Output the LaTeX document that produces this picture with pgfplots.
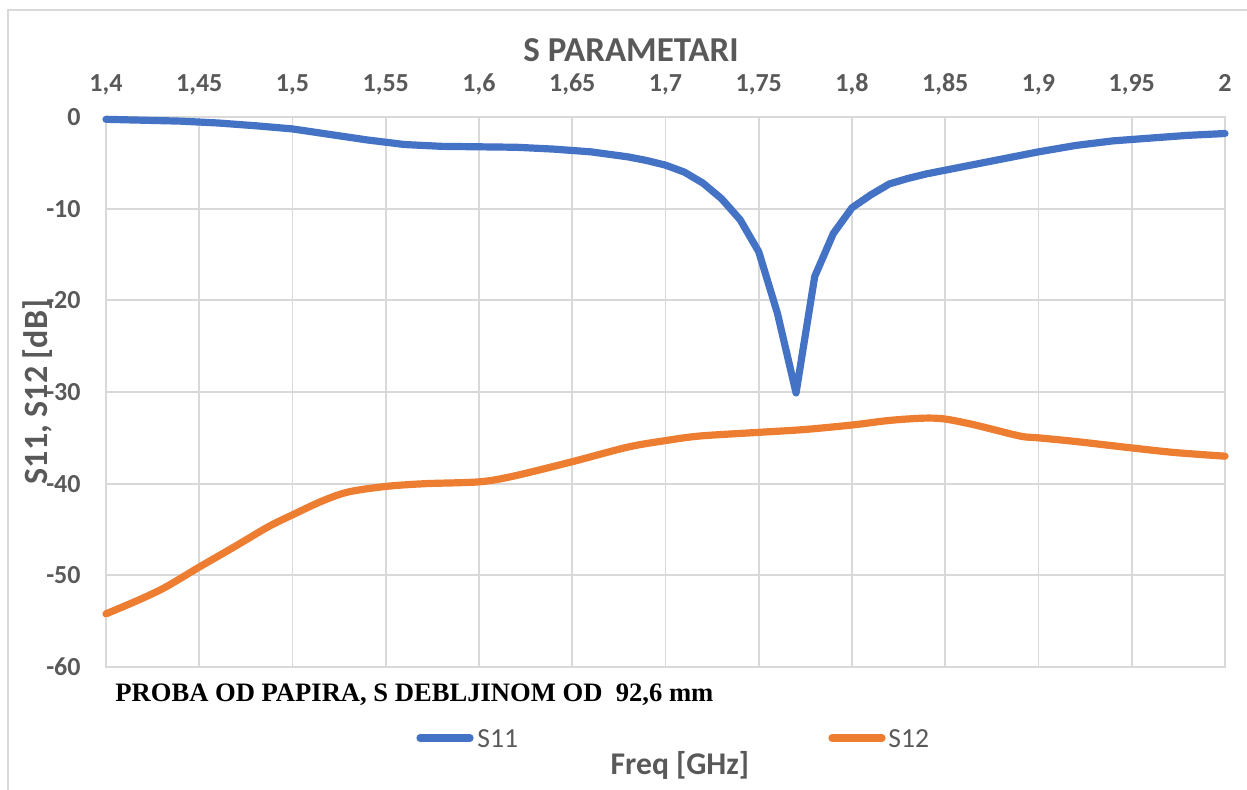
\documentclass[border=0pt]{standalone}
\usepackage{pgfplots}
\pgfplotsset{compat=1.18}
\usepackage{fontspec}
\setmainfont{Carlito}
\newfontfamily\timesfont{Liberation Serif}
\definecolor{txtgray}{HTML}{595959}
\definecolor{gridgray}{HTML}{D9D9D9}
\definecolor{sblue}{HTML}{4472C4}
\definecolor{sorange}{HTML}{ED7D31}
\begin{document}
\begin{tikzpicture}
\begin{scope}[x=0.5pt,y=-0.5pt]
\path[use as bounding box] (0,0) rectangle (1247,789);
\draw[gridgray,line width=0.8pt] (8,10) rectangle (1260,800);
\end{scope}
\begin{axis}[
  at={(53pt,-333.5pt)}, anchor=south west,
  width=559.5pt, height=275pt, scale only axis,
  xmin=1.4, xmax=2, ymin=-60, ymax=0,
  xtick={1.4,1.45,1.5,1.55,1.6,1.65,1.7,1.75,1.8,1.85,1.9,1.95,2},
  xticklabels={{1,4},{1,45},{1,5},{1,55},{1,6},{1,65},{1,7},{1,75},{1,8},{1,85},{1,9},{1,95},2},
  ytick={-60,-50,-40,-30,-20,-10,0},
  yticklabels={-60,-50,-40,-30,-20,-10,0},
  xticklabel pos=upper,
  major tick length=0pt,
  grid=major,
  major grid style={gridgray, line width=0.9pt},
  axis line style={gridgray, line width=0.9pt},
  tick label style={font=\fontsize{13}{15}\selectfont\bfseries, text=txtgray},
  xticklabel style={anchor=base, inner sep=0pt, yshift=13pt},
  yticklabel style={anchor=east, inner sep=0pt, xshift=-12.5pt},
  clip=false,
]
\addplot[sorange, line width=3.6pt, line cap=round, line join=round, smooth] coordinates {
(1.40,-54.2) (1.4174,-52.7) (1.4318,-51.3) (1.45,-49.1) (1.4687,-46.9) (1.487,-44.7) (1.50,-43.4) (1.5158,-41.9) (1.530,-40.9) (1.55,-40.3) (1.571,-40.0) (1.60,-39.8) (1.618,-39.2) (1.65,-37.6) (1.68,-36.0) (1.70,-35.3) (1.7184,-34.8) (1.75,-34.4) (1.774,-34.1) (1.80,-33.6) (1.820,-33.1) (1.8386,-32.85) (1.85,-32.95) (1.866,-33.6) (1.89,-34.8) (1.90,-35.0) (1.92,-35.4) (1.95,-36.1) (1.973,-36.6) (2.00,-37.0)
};
\addplot[sblue, line width=3.6pt, line cap=round, line join=round] coordinates {
(1.40,-0.25) (1.42,-0.35) (1.44,-0.45) (1.46,-0.65) (1.48,-0.95) (1.50,-1.3) (1.52,-1.9) (1.54,-2.5) (1.56,-3.0) (1.58,-3.2) (1.60,-3.25) (1.62,-3.3) (1.64,-3.5) (1.66,-3.8) (1.68,-4.35) (1.69,-4.75) (1.70,-5.25) (1.71,-6.0) (1.72,-7.2) (1.73,-8.9) (1.74,-11.2) (1.75,-14.7) (1.76,-21.4) (1.77,-30.1) (1.78,-17.4) (1.79,-12.7) (1.80,-9.9) (1.81,-8.5) (1.82,-7.3) (1.83,-6.7) (1.84,-6.2) (1.85,-5.8) (1.86,-5.4) (1.88,-4.6) (1.90,-3.8) (1.92,-3.1) (1.94,-2.6) (1.96,-2.3) (1.98,-2.0) (2.00,-1.8)
};
\end{axis}
\begin{scope}[x=0.5pt,y=-0.5pt]
\node[font=\fontsize{17.5}{19}\selectfont\bfseries, text=txtgray] at (631,50) {S PARAMETARI};
\node[font=\fontsize{17}{19}\selectfont\bfseries, text=txtgray, rotate=90] at (38,392) {S11, S12 [dB]};
\node[font=\fontsize{15.8}{17}\selectfont\bfseries, text=txtgray] at (680,765) {Freq [GHz]};
\node[font=\timesfont\fontsize{13.3}{15}\selectfont\bfseries, anchor=west, inner sep=0pt] at (115,695) {PROBA OD PAPIRA, S DEBLJINOM OD\ \ 92,6 mm};
\draw[sblue, line width=3.6pt, line cap=round] (420,738) -- (470,738);
\node[font=\fontsize{13.8}{15}\selectfont, text=txtgray, anchor=west, inner sep=0pt] at (477,739) {S11};
\draw[sorange, line width=3.6pt, line cap=round] (832,738) -- (882,738);
\node[font=\fontsize{13.8}{15}\selectfont, text=txtgray, anchor=west, inner sep=0pt] at (888,739) {S12};
\end{scope}
\end{tikzpicture}
\end{document}
